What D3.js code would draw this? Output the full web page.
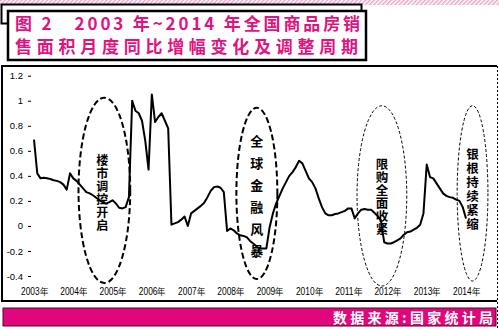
<!DOCTYPE html>
<html>
<head>
<meta charset="utf-8">
<script src="https://cdn.jsdelivr.net/npm/d3@7"></script>
<style>
  body { margin: 0; background: #fff; }
  svg { display: block; }
</style>
</head>
<body>
<div id="chart"></div>
<script>
// month index 0 = 2003年1月, one value per month up to 2014年1月
const startYear = 2003;
const values = [
  0.69, 0.42, 0.38, 0.385, 0.38, 0.375, 0.365, 0.36, 0.35, 0.33, 0.29, 0.42,
  0.38, 0.36, 0.33, 0.3, 0.27, 0.26, 0.245, 0.225, 0.205, 0.19, 0.178, 0.19,
  0.205, 0.18, 0.145, 0.14, 0.15, 0.23, 1.0, 0.92, 0.9, 0.84, 0.68, 0.45,
  1.05, 0.83, 0.87, 0.9, 0.84, 0.78, 0.01, 0.02, 0.03, 0.05, 0.075, 0.0,
  0.1, 0.12, 0.14, 0.16, 0.185, 0.23, 0.28, 0.31, 0.315, 0.305, 0.27, -0.04,
  -0.02, -0.035, -0.06, -0.075, -0.08, -0.09, -0.12, -0.14, -0.165, -0.18, -0.18, -0.18,
  -0.01, 0.1, 0.18, 0.24, 0.3, 0.35, 0.4, 0.43, 0.47, 0.52, 0.5, 0.44,
  0.38, 0.35, 0.3, 0.22, 0.15, 0.1, 0.085, 0.085, 0.095, 0.1, 0.11, 0.12,
  0.14, 0.14, 0.06, 0.1, 0.13, 0.135, 0.13, 0.13, 0.105, 0.08, 0.045, -0.13,
  -0.14, -0.14, -0.13, -0.115, -0.1, -0.07, -0.05, -0.045, -0.03, -0.015, 0.01, 0.1,
  0.49, 0.39, 0.38, 0.34, 0.3, 0.26, 0.24, 0.23, 0.225, 0.21, 0.2, 0.15,
  0.06
];

const yearLabels = ['2003年', '2004年', '2005年', '2006年', '2007年', '2008年',
                    '2009年', '2010年', '2011年', '2012年', '2013年', '2014年'];
const yTicks = [1.2, 1, 0.8, 0.6, 0.4, 0.2, 0, -0.2, -0.4];
const yTickLabels = ['1.2', '1', '0.8', '0.6', '0.4', '0.2', '0', '-0.2', '-0.4'];

// policy periods: centre month, centre value, half width (months), half height (value)
const periodNames = ['楼市调控开启', '全球金融风暴', '限购全面收紧', '银根持续紧缩'];
const periodCenters = [[21.5, 0.284], [68.1, 0.26], [106.3, 0.24], [134.0, 0.26]];
const periodRadii = [[7.9, 0.74], [6.26, 0.684], [7.6, 0.72], [4.7, 0.70]];

const titleLines = ['图 2   2003 年~2014 年全国商品房销', '售面积月度同比增幅变化及调整周期'];
const sourceText = '数据来源:国家统计局';

const width = 499, height = 329;
const magenta = '#e2127f';

const svg = d3.select('#chart').append('svg')
    .attr('width', width)
    .attr('height', height);

// pink hatch at the very top
const defs = svg.append('defs');
const pat = defs.append('pattern')
    .attr('id', 'hatch')
    .attr('width', 3).attr('height', 3)
    .attr('patternUnits', 'userSpaceOnUse')
    .attr('patternTransform', 'rotate(45)');
pat.append('rect').attr('width', 3).attr('height', 3).attr('fill', '#fff');
pat.append('rect').attr('width', 1.5).attr('height', 3).attr('fill', '#e9a6c9');

svg.append('rect')
    .attr('x', 0).attr('y', 0)
    .attr('width', width).attr('height', 5)
    .attr('fill', 'url(#hatch)');

// title boxes
svg.append('rect')
    .attr('x', 1.5).attr('y', 4.5)
    .attr('width', 360).attr('height', 19)
    .attr('fill', '#fff')
    .attr('stroke', '#000')
    .attr('stroke-width', 2);

svg.append('rect')
    .attr('x', 8).attr('y', 11)
    .attr('width', 358).attr('height', 49)
    .attr('fill', '#fff')
    .attr('stroke', '#000')
    .attr('stroke-width', 2.5);

svg.selectAll('.title')
    .data(titleLines)
    .enter().append('text')
    .attr('class', 'title')
    .attr('x', 15)
    .attr('y', (d, i) => i === 0 ? 30 : 53)
    .attr('textLength', (d, i) => i === 0 ? 345 : 343)
    .attr('lengthAdjust', 'spacing')
    .style('white-space', 'pre')
    .style('font-family', '"Noto Sans CJK SC", sans-serif')
    .style('font-weight', 'bold')
    .style('font-size', '17px')
    .style('fill', magenta)
    .text(d => d);

// chart frame
const frame = svg.append('g');
frame.append('path')
    .attr('d', 'M497,66 H2 V301 H497')
    .attr('fill', 'none')
    .attr('stroke', '#000')
    .attr('stroke-width', 2);
frame.append('line')
    .attr('x1', 497.5).attr('x2', 497.5)
    .attr('y1', 66).attr('y2', height)
    .attr('stroke', '#000')
    .attr('stroke-width', 1)
    .attr('stroke-dasharray', '2,2');

// scales
const x = d3.scaleLinear()
    .domain([0, 132])
    .range([34, 466]);

const y = d3.scaleLinear()
    .domain([-0.4, 1.2])
    .range([276, 75.7]);

// y axis
const yAxis = svg.append('g')
    .attr('transform', 'translate(31,0)')
    .call(d3.axisLeft(y)
        .tickValues(yTicks)
        .tickFormat((d, i) => yTickLabels[i])
        .tickSize(3)
        .tickPadding(5));
yAxis.select('.domain').remove();
yAxis.selectAll('line').attr('stroke', '#000');
yAxis.selectAll('text')
    .style('font-family', '"Liberation Sans", Arial, sans-serif')
    .style('font-size', '9.5px')
    .style('fill', '#000');

// x axis (year labels)
const xAxis = svg.append('g')
    .attr('transform', 'translate(0,288)')
    .call(d3.axisBottom(x)
        .tickValues(yearLabels.map((d, i) => i * 12))
        .tickFormat((d, i) => yearLabels[i])
        .tickSize(0)
        .tickPadding(0));
xAxis.select('.domain').remove();
xAxis.selectAll('text')
    .attr('dy', '0.71em')
    .attr('textLength', 27)
    .attr('lengthAdjust', 'spacingAndGlyphs')
    .style('font-family', '"Liberation Sans", Arial, sans-serif')
    .style('font-size', '10px')
    .style('fill', '#000');

// the series line
const line = d3.line()
    .x((d, i) => x(i))
    .y(d => y(d));

svg.append('path')
    .datum(values)
    .attr('fill', 'none')
    .attr('stroke', '#000')
    .attr('stroke-width', 2)
    .attr('stroke-linejoin', 'round')
    .attr('d', line);

// dashed ellipses marking the policy periods
const periods = periodNames.map((name, i) => ({
    name: name,
    cx: x(periodCenters[i][0]),
    cy: y(periodCenters[i][1]),
    rx: x(periodRadii[i][0]) - x(0),
    ry: y(0) - y(periodRadii[i][1]),
    heavy: i < 2
}));

svg.append('g')
    .selectAll('ellipse')
    .data(periods)
    .enter().append('ellipse')
    .attr('cx', d => d.cx)
    .attr('cy', d => d.cy)
    .attr('rx', d => d.rx)
    .attr('ry', d => d.ry)
    .attr('fill', 'none')
    .attr('stroke', '#000')
    .attr('stroke-width', d => d.heavy ? 2 : 1)
    .attr('stroke-dasharray', d => d.heavy ? '6,3' : '3,2');

// vertical labels written top to bottom
const pitch = [12.8, 20.4, 13, 13.7];
const fontSize = [12, 13, 12.5, 12.5];
const shift = [2.5, 2.7, 1, -4];
svg.append('g')
    .selectAll('text')
    .data(periods)
    .enter().append('text')
    .attr('x', (d, i) => d.cx - (i === 0 ? 2 : 0))
    .attr('y', (d, i) => d.cy + shift[i])
    .attr('text-anchor', 'middle')
    .attr('textLength', (d, i) => pitch[i] * Array.from(d.name).length)
    .attr('lengthAdjust', 'spacing')
    .style('writing-mode', 'vertical-rl')
    .style('text-orientation', 'upright')
    .style('font-family', '"Noto Sans CJK SC", sans-serif')
    .style('font-weight', 'bold')
    .style('font-size', (d, i) => fontSize[i] + 'px')
    .style('fill', '#000')
    .text(d => d.name);

// source band
svg.append('rect')
    .attr('x', 3).attr('y', 308)
    .attr('width', 493).attr('height', 18)
    .attr('fill', '#e0077c')
    .attr('stroke', '#4a0a2a')
    .attr('stroke-width', 1);

svg.append('text')
    .attr('x', 493)
    .attr('y', 322.5)
    .attr('text-anchor', 'end')
    .attr('textLength', 160)
    .attr('lengthAdjust', 'spacing')
    .style('font-family', '"Noto Sans CJK SC", sans-serif')
    .style('font-weight', 'bold')
    .style('font-size', '14px')
    .style('fill', '#fff')
    .text(sourceText);
</script>
</body>
</html>
